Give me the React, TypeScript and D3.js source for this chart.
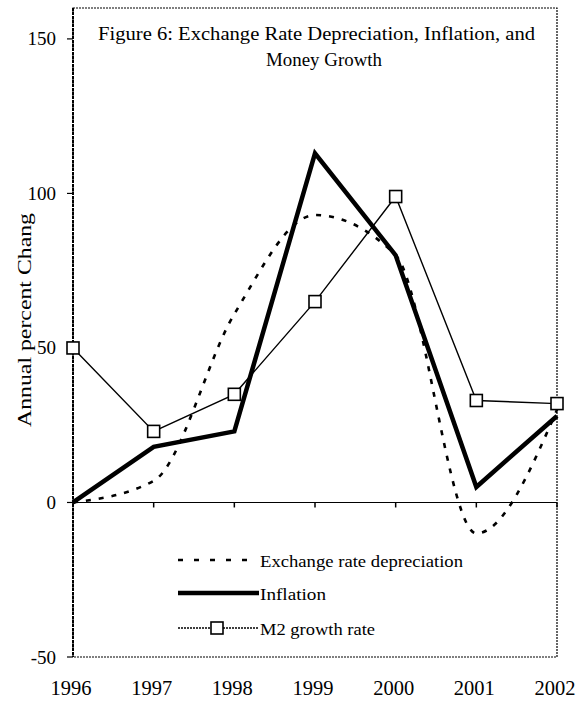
import React from "react";
import * as d3 from "d3";

const years = [1996, 1997, 1998, 1999, 2000, 2001, 2002];
const exchangeDep = [0, 7, 61, 93, 80, -10, 30];
const inflation = [0, 18, 23, 113, 80, 5, 28];
const m2Growth = [50, 23, 35, 65, 99, 33, 32];
const yTicks = [-50, 0, 50, 100, 150];
const titleLines = ["Figure 6: Exchange Rate Depreciation, Inflation, and", "Money Growth"];
const legendItems = ["Exchange rate depreciation", "Inflation", "M2 growth rate"];

const W = 582, H = 702;
const left = 73, right = 557, top = 8, bottom = 657;
const font = "'Liberation Serif', 'Times New Roman', serif";

export default function App() {
  const x = d3.scaleLinear().domain([1996, 2002]).range([left, right]);
  const y = d3.scaleLinear().domain([-50, 160]).range([bottom, top]);
  const pts = (vals: number[]) => years.map((yr, i) => [x(yr), y(vals[i])] as [number, number]);
  const straight = d3.line();
  const smooth = d3.line().curve(d3.curveMonotoneX);
  const sq = 12;
  const ly = [560, 593, 628];
  const legendW = [203, 66, 115];
  const titleX = [316.5, 324];
  const titleW = [437, 116];
  return (
    <svg width={W} height={H} style={{ position: "absolute", left: 0, top: 0, background: "#fff" }}>
      <rect x={0} y={0} width={W} height={H} fill="#fff" />
      {/* frame */}
      <rect x={left} y={top} width={right - left} height={bottom - top} fill="none" stroke="#000" strokeWidth={1.2} strokeDasharray="2 1" />
      <line x1={left} x2={left} y1={top} y2={bottom} stroke="#000" strokeWidth={2} strokeDasharray="3 1" />
      {/* y ticks */}
      {yTicks.map((t) => (
        <g key={t}>
          <line x1={left - 6} x2={left} y1={y(t)} y2={y(t)} stroke="#000" strokeWidth={1.2} />
          <text x={56} y={y(t) + 6.5} textAnchor="end" fontFamily={font} fontSize={19}>{t}</text>
        </g>
      ))}
      {/* zero axis */}
      <line x1={left} x2={right} y1={y(0)} y2={y(0)} stroke="#000" strokeWidth={1.2} />
      {years.map((yr) => (
        <g key={yr}>
          <line x1={x(yr)} x2={x(yr)} y1={y(0)} y2={y(0) + 5} stroke="#000" strokeWidth={1.5} />
          <text x={x(yr) - 2} y={695} textAnchor="middle" fontFamily={font} fontSize={20.5}>{yr}</text>
        </g>
      ))}
      {/* y label */}
      <text transform={`translate(31, 320) rotate(-90)`} textAnchor="middle" fontFamily={font} fontSize={19} textLength={214} lengthAdjust="spacingAndGlyphs">Annual percent Chang</text>
      {/* title */}
      {titleLines.map((t, i) => (
        <text key={i} x={titleX[i]} y={40 + i * 26} textAnchor="middle" fontFamily={font} fontSize={19.5} textLength={titleW[i]} lengthAdjust="spacingAndGlyphs">{t}</text>
      ))}
      {/* series */}
      <path d={smooth(pts(exchangeDep)) || ""} fill="none" stroke="#000" strokeWidth={2.6} strokeDasharray="5 8" />
      <path d={straight(pts(inflation)) || ""} fill="none" stroke="#000" strokeWidth={4.5} strokeLinejoin="miter" />
      <path d={straight(pts(m2Growth)) || ""} fill="none" stroke="#000" strokeWidth={1.4} />
      {pts(m2Growth).map(([px, py], i) => (
        <rect key={i} x={px - sq / 2} y={py - sq / 2} width={sq} height={sq} fill="#fff" stroke="#000" strokeWidth={1.6} />
      ))}
      {/* legend */}
      <line x1={178} x2={256} y1={ly[0]} y2={ly[0]} stroke="#000" strokeWidth={2.6} strokeDasharray="5 11" />
      <line x1={178} x2={259} y1={ly[1]} y2={ly[1]} stroke="#000" strokeWidth={4.5} />
      <line x1={178} x2={259} y1={ly[2]} y2={ly[2]} stroke="#000" strokeWidth={1.4} strokeDasharray="2 1" />
      <rect x={211} y={ly[2] - 6} width={12} height={12} fill="#fff" stroke="#000" strokeWidth={1.6} />
      {legendItems.map((t, i) => (
        <text key={t} x={260} y={ly[i] + 7} fontFamily={font} fontSize={17.5} textLength={legendW[i]} lengthAdjust="spacingAndGlyphs">{t}</text>
      ))}
    </svg>
  );
}
